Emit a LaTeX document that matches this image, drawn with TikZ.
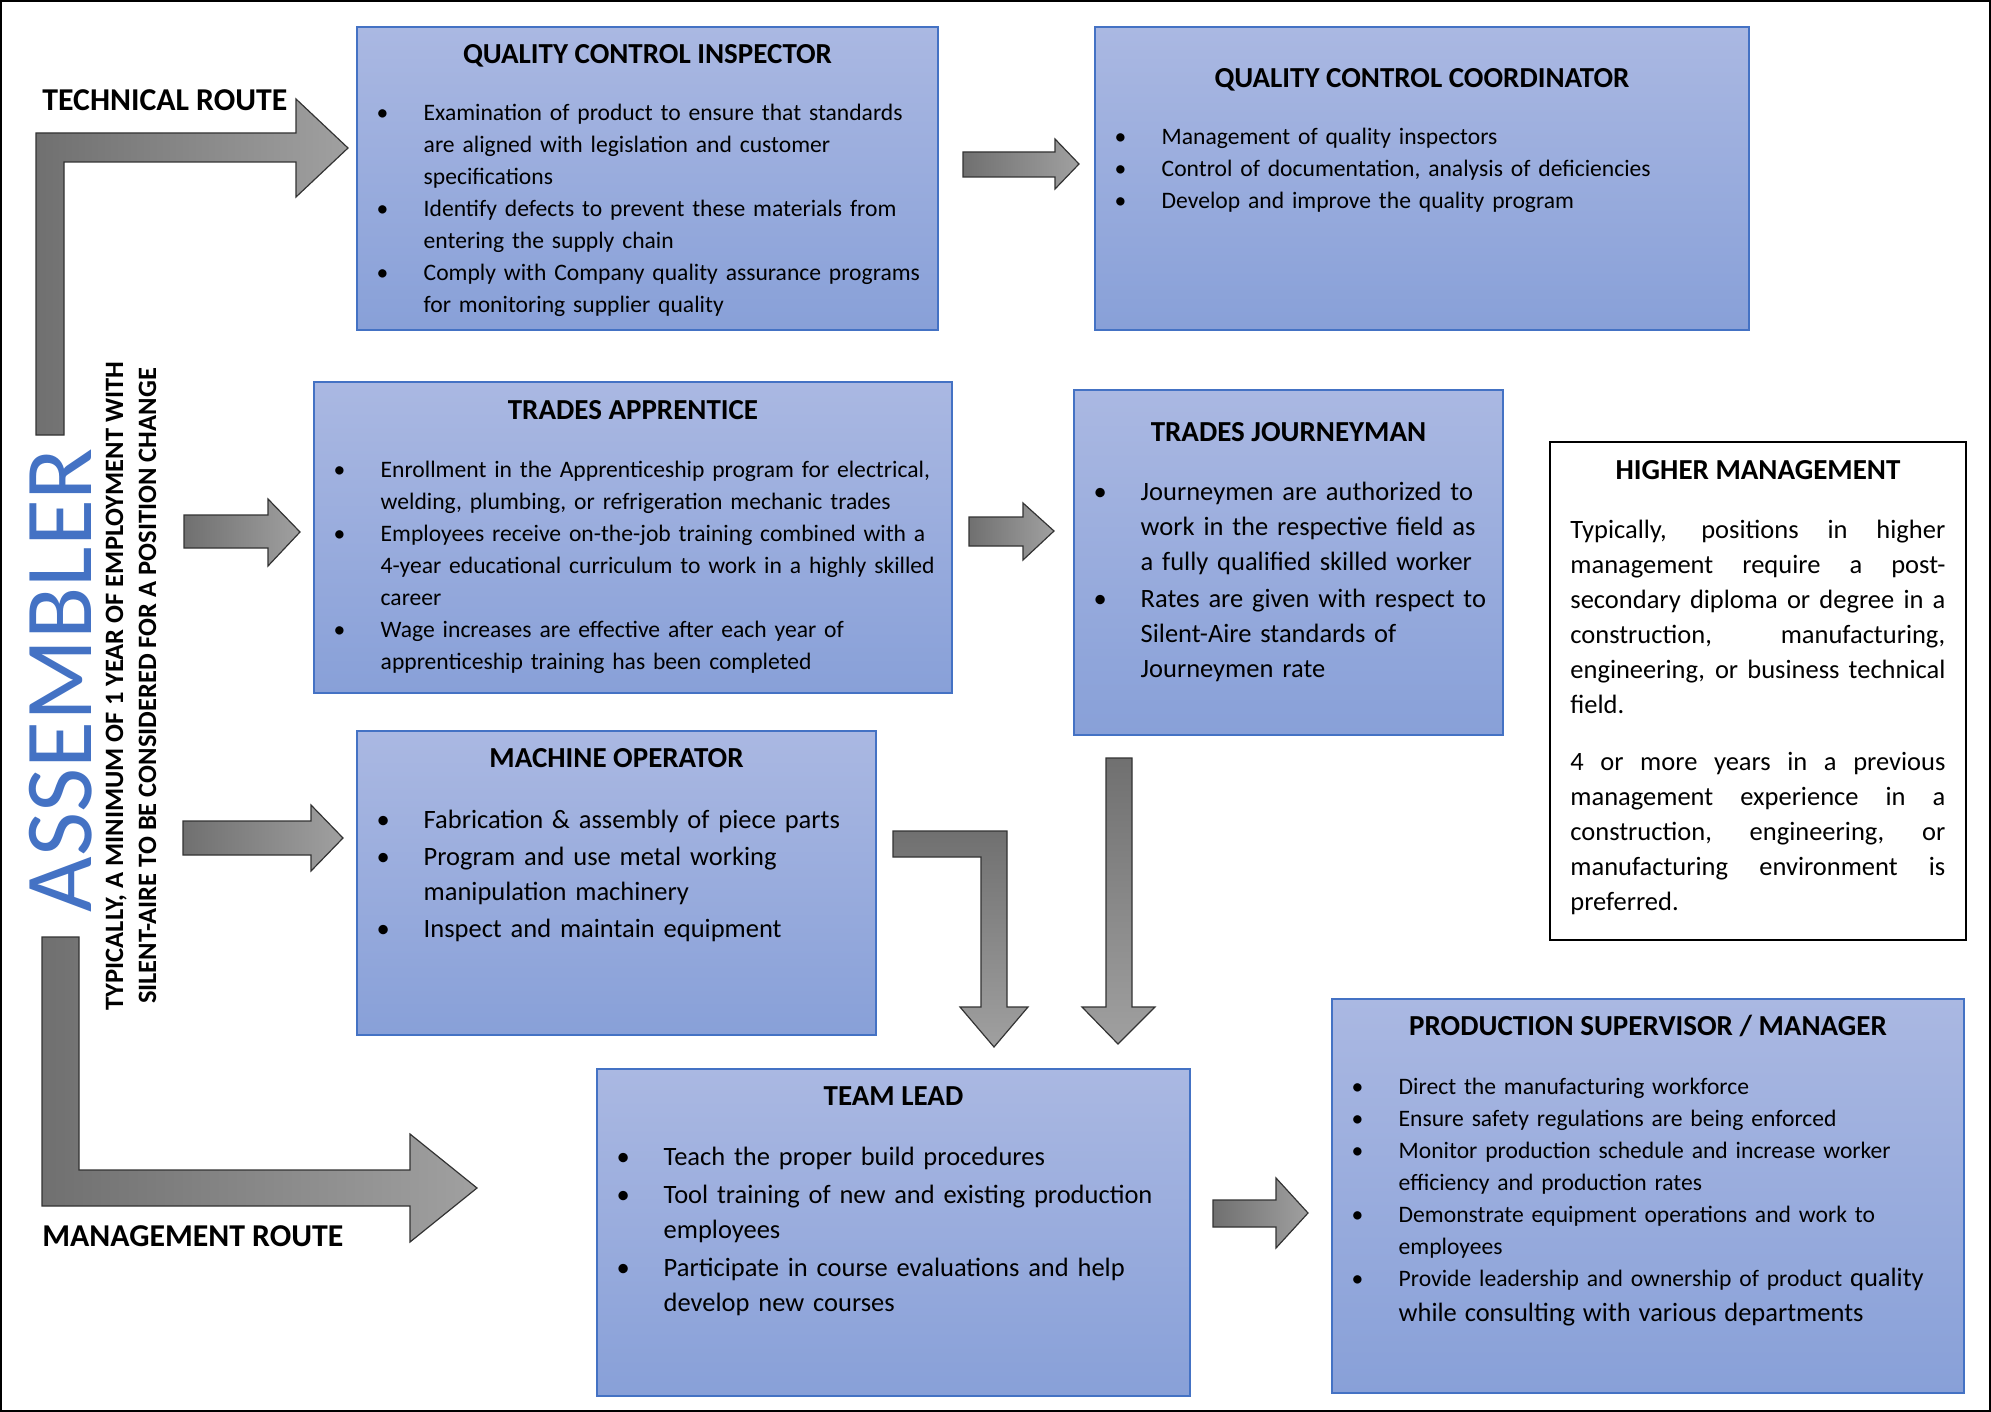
\documentclass[tikz,border=0pt]{standalone}
\usepackage{fontspec}
\setmainfont{Carlito}
\usepackage{tikz}
\usetikzlibrary{positioning,calc}

\definecolor{boxtop}{RGB}{170,184,226}
\definecolor{boxbot}{RGB}{136,160,216}
\definecolor{boxline}{RGB}{68,114,196}
\definecolor{asmblue}{RGB}{68,114,196}
\definecolor{arrdark}{RGB}{112,112,112}
\definecolor{arrlight}{RGB}{160,160,160}

\newlength{\bulw}\setlength{\bulw}{23.5pt}
\newlength{\hmw}\setlength{\hmw}{187.5pt}
\newcommand{\bitem}{\makebox[\bulw][l]{\textbullet}}
\newcommand{\bcont}{\hspace*{\bulw}}
\newcommand{\jline}[1]{\leavevmode\hbox to \hmw{\spaceskip=0.23em plus 1fil\relax #1}}
\newcommand{\smalltxt}{\fontsize{11.8}{16}\selectfont}
\newcommand{\bigtxt}{\fontsize{13.25}{17.5}\selectfont}

\begin{document}
\begin{tikzpicture}[x=0.5pt, y=-0.5pt,
    jobbox/.style={draw=boxline, line width=0.7pt, top color=boxtop, bottom color=boxbot, inner sep=0pt},
    ttl/.style={font=\fontsize{14.5}{17}\selectfont\bfseries, inner sep=0pt, anchor=base},
    smallbody/.style={font=\smalltxt, text width=420pt, align=left, inner sep=0pt, anchor=base west},
    bigbody/.style={font=\bigtxt, text width=420pt, align=left, inner sep=0pt, anchor=base west},
    route/.style={font=\fontsize{15.9}{19}\selectfont\bfseries, inner sep=0pt, anchor=base west},
    rarrow/.style={draw=black!80, line width=0.6pt, left color=arrdark, right color=arrlight},
    darrow/.style={draw=black!80, line width=0.6pt, top color=arrdark, bottom color=arrlight}]

    \useasboundingbox (0,0) rectangle (1991,1412);
    \draw[line width=1pt] (1,1) rectangle (1990,1411);

    % Left side: routes and assembler
    \node[route] (tech) at (42,111) {TECHNICAL ROUTE};
    \node[route] (mgmt) at (42,1246) {MANAGEMENT ROUTE};
    \node[rotate=90, text=asmblue, font=\fontsize{48}{48}\selectfont, inner sep=0pt] (asm) at (61,680) {ASSEMBLER};
    \node[rotate=90, align=center, font=\fontsize{13.25}{16.5}\selectfont\bfseries, inner sep=0pt] (cond) at (131,686)
        {TYPICALLY, A MINIMUM OF 1 YEAR OF EMPLOYMENT WITH\\SILENT-AIRE TO BE CONSIDERED FOR A POSITION CHANGE};

    % Route arrows
    \path[rarrow] (36,435) -- (36,133) -- (296,133) -- (296,99) -- (348,148) -- (296,197) -- (296,162) -- (64,162) -- (64,435) -- cycle;
    \path[rarrow] (42,937) -- (42,1206) -- (410,1206) -- (410,1242) -- (477,1188) -- (410,1134) -- (410,1170) -- (79,1170) -- (79,937) -- cycle;

    % Quality control inspector
    \node[jobbox, minimum width=290.5pt, minimum height=151.5pt] (qci) at (647.5,178.5) {};
    \node[ttl] (qcittl) at ($(qci.north)+(0,37)$) {QUALITY CONTROL INSPECTOR};
    \node[smallbody] (qcitxt) at ($(qci.north west)+(20,94)$) {%
        \bitem Examination of product to ensure that standards\\
        \bcont are aligned with legislation and customer\\
        \bcont specifications\\
        \bitem Identify defects to prevent these materials from\\
        \bcont entering the supply chain\\
        \bitem Comply with Company quality assurance programs\\
        \bcont for monitoring supplier quality};

    % Quality control coordinator
    \node[jobbox, minimum width=327pt, minimum height=151.5pt] (qcc) at (1422,178.5) {};
    \node[ttl] (qccttl) at ($(qcc.north)+(0,61)$) {QUALITY CONTROL COORDINATOR};
    \node[smallbody] (qcctxt) at ($(qcc.north west)+(20,118)$) {%
        \bitem Management of quality inspectors\\
        \bitem Control of documentation, analysis of deficiencies\\
        \bitem Develop and improve the quality program};

    % Trades apprentice
    \node[jobbox, minimum width=319pt, minimum height=155.5pt] (ta) at (633,537.5) {};
    \node[ttl] (tattl) at ($(ta.north)+(0,38)$) {TRADES APPRENTICE};
    \node[smallbody] (tatxt) at ($(ta.north west)+(20,96)$) {%
        \bitem Enrollment in the Apprenticeship program for electrical,\\
        \bcont welding, plumbing, or refrigeration mechanic trades\\
        \bitem Employees receive on-the-job training combined with a\\
        \bcont 4-year educational curriculum to work in a highly skilled\\
        \bcont career\\
        \bitem Wage increases are effective after each year of\\
        \bcont apprenticeship training has been completed};

    % Trades journeyman
    \node[jobbox, minimum width=214.5pt, minimum height=172.5pt] (tj) at (1288.5,562.5) {};
    \node[ttl] (tjttl) at ($(tj.north)+(0,52)$) {TRADES JOURNEYMAN};
    \node[bigbody] (tjtxt) at ($(tj.north west)+(20,111)$) {%
        \bitem Journeymen are authorized to\\
        \bcont work in the respective field as\\
        \bcont a fully qualified skilled worker\\[1pt]
        \bitem Rates are given with respect to\\
        \bcont Silent-Aire standards of\\
        \bcont Journeymen rate};

    % Higher management
    \node[draw, line width=1pt, fill=white, inner sep=0pt, minimum width=208pt, minimum height=249pt] (hm) at (1758,691) {};
    \node[ttl] (hmttl) at ($(hm.north)+(0,38)$) {HIGHER MANAGEMENT};
    \node[bigbody, text width=187.5pt] (hmtxt) at ($(hm.north west)+(21,97)$) {%
        \jline{Typically, positions in higher}\\
        \jline{management require a post-}\\
        \jline{secondary diploma or degree in a}\\
        \jline{construction, manufacturing,}\\
        \jline{engineering, or business technical}\\
        field.\\[11pt]
        \jline{4 or more years in a previous}\\
        \jline{management experience in a}\\
        \jline{construction, engineering, or}\\
        \jline{manufacturing environment is}\\
        preferred.};

    % Machine operator
    \node[jobbox, minimum width=259.5pt, minimum height=152pt] (mo) at (616.5,883) {};
    \node[ttl] (mottl) at ($(mo.north)+(0,37)$) {MACHINE OPERATOR};
    \node[bigbody] (motxt) at ($(mo.north west)+(20,98)$) {%
        \bitem Fabrication \& assembly of piece parts\\[1pt]
        \bitem Program and use metal working\\
        \bcont manipulation machinery\\[1pt]
        \bitem Inspect and maintain equipment};

    % Team lead
    \node[jobbox, minimum width=296.5pt, minimum height=163.5pt] (tl) at (893.5,1232.5) {};
    \node[ttl] (tlttl) at ($(tl.north)+(0,37)$) {TEAM LEAD};
    \node[bigbody] (tltxt) at ($(tl.north west)+(20,97)$) {%
        \bitem Teach the proper build procedures\\[1.5pt]
        \bitem Tool training of new and existing production\\
        \bcont employees\\[1.5pt]
        \bitem Participate in course evaluations and help\\
        \bcont develop new courses};

    % Production supervisor / manager
    \node[jobbox, minimum width=316pt, minimum height=197pt] (ps) at (1648,1196) {};
    \node[ttl] (psttl) at ($(ps.north)+(0,37)$) {PRODUCTION SUPERVISOR / MANAGER};
    \node[smallbody] (pstxt) at ($(ps.north west)+(20,96)$) {%
        \bitem Direct the manufacturing workforce\\
        \bitem Ensure safety regulations are being enforced\\
        \bitem Monitor production schedule and increase worker\\
        \bcont efficiency and production rates\\
        \bitem Demonstrate equipment operations and work to\\
        \bcont employees\\
        \bitem Provide leadership and ownership of product {\bigtxt quality}\\[1.5pt]
        \bcont{\bigtxt while consulting with various departments}};

    % Block arrows between boxes
    \path[rarrow] (963,152) -- (1055,152) -- (1055,139) -- (1079,164) -- (1055,189) -- (1055,177) -- (963,177) -- cycle;
    \path[rarrow] (184,515) -- (268,515) -- (268,499) -- (300,532) -- (268,566) -- (268,548) -- (184,548) -- cycle;
    \path[rarrow] (183,821) -- (311,821) -- (311,805) -- (343,838) -- (311,871) -- (311,855) -- (183,855) -- cycle;
    \path[rarrow] (969,517) -- (1023,517) -- (1023,503) -- (1054,531) -- (1023,560) -- (1023,546) -- (969,546) -- cycle;
    \path[darrow] (893,831) -- (1007,831) -- (1007,1007) -- (1028,1007) -- (994,1047) -- (960,1007) -- (981,1007) -- (981,857) -- (893,857) -- cycle;
    \path[darrow] (1106,758) -- (1132,758) -- (1132,1007) -- (1155,1007) -- (1118,1044) -- (1082,1007) -- (1106,1007) -- cycle;
    \path[rarrow] (1213,1200) -- (1276,1200) -- (1276,1178) -- (1308,1213) -- (1276,1248) -- (1276,1227) -- (1213,1227) -- cycle;
\end{tikzpicture}
\end{document}
